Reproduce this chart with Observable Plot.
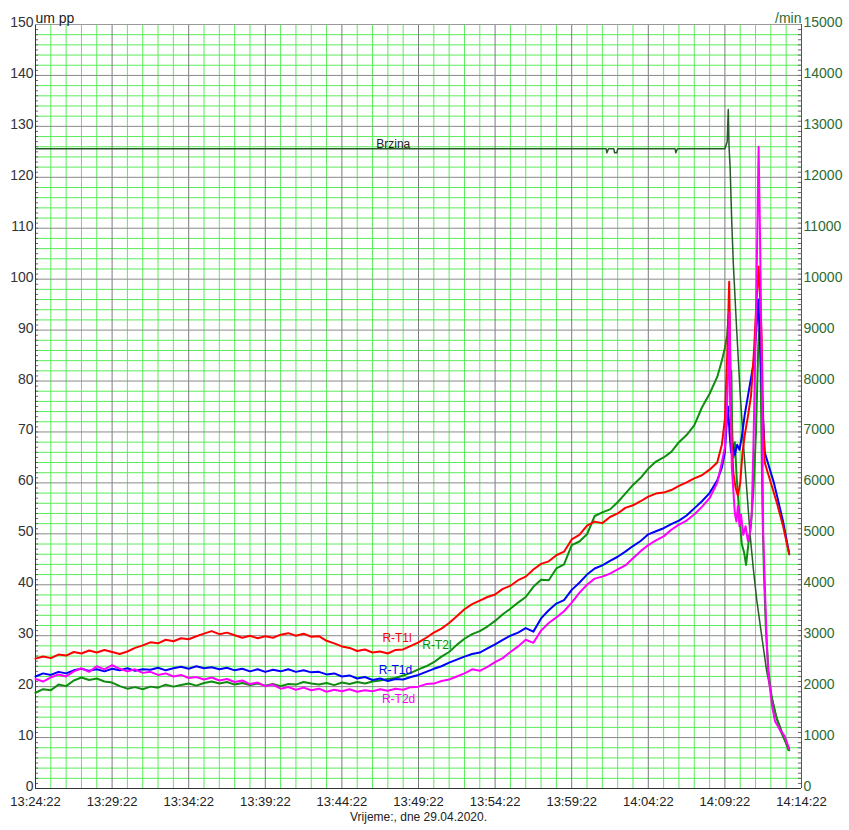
<!DOCTYPE html>
<html>
<head>
<meta charset="utf-8">
<script src="https://cdn.jsdelivr.net/npm/d3@7"></script>
<script src="https://cdn.jsdelivr.net/npm/@observablehq/plot@0.6"></script>
<style>
  html, body { margin: 0; padding: 0; background: #fff; }
  #chart { width: 849px; height: 830px; }
</style>
</head>
<body>
<div id="chart"></div>
<script>
// ---- Data (minutes after 13:24:22; left axis um pp, right axis /min) ----
const startLabel = "13:24:22";
const earlyMinutes = d3.range(0, 45, 0.5); // sampling grid for the slow part

const redEarly = [
  25.5, 25.9, 25.6, 26.3, 26.1, 26.8, 26.5, 27.1, 26.7, 27.2,
  26.8, 26.4, 26.9, 27.6, 28.1, 28.7, 28.5, 29.2, 28.9, 29.5,
  29.3, 29.9, 30.4, 30.9, 30.3, 30.6, 30.1, 29.6, 30.0, 29.5,
  29.9, 29.6, 30.2, 30.5, 30.0, 30.4, 29.8, 29.9, 29.0, 28.5,
  27.9, 27.6, 27.0, 27.3, 26.7, 26.9, 26.5, 27.2, 27.3, 28.0,
  28.7, 29.6, 30.6, 31.4, 32.5, 33.8, 35.2, 36.2, 36.9, 37.6,
  38.1, 39.2, 39.8, 40.9, 41.6, 43.0, 44.1, 44.6, 45.8, 46.5,
  48.9, 49.8, 51.6, 52.4, 52.1, 53.3, 54.0, 55.1, 55.6, 56.4,
  57.3, 57.9, 58.1, 58.6, 59.4, 60.1, 60.9, 61.5, 62.6, 64.0
];
const redLate = [
  [44.8, 67.5], [45.0, 72.5], [45.15, 85], [45.28, 99.5], [45.35, 85], [45.42, 70],
  [45.55, 62], [45.7, 59], [45.85, 57.5], [46.0, 60], [46.15, 66], [46.3, 69.5],
  [46.5, 73], [46.7, 77], [46.9, 86], [47.05, 95], [47.2, 102.5], [47.3, 96],
  [47.4, 88], [47.5, 72], [47.6, 64], [47.75, 62.5], [47.9, 61], [48.1, 59],
  [48.4, 56], [48.8, 51.5], [49.2, 46]
];

const greenEarly = [
  18.8, 19.5, 19.3, 20.4, 20.1, 21.2, 21.8, 21.3, 21.6, 21.0,
  20.8, 20.1, 19.6, 19.9, 19.5, 20.0, 19.8, 20.4, 20.0, 20.3,
  20.6, 20.2, 20.7, 21.0, 20.6, 20.9, 20.4, 20.7, 20.3, 20.6,
  20.2, 20.5, 20.1, 20.5, 20.4, 20.9, 20.6, 20.4, 20.7, 20.3,
  20.8, 20.5, 20.9, 20.6, 21.0, 21.2, 21.5, 21.7, 22.2, 22.7,
  23.4, 24.0, 24.8, 25.9, 26.8, 28.2, 29.4, 30.3, 30.9, 31.8,
  32.9, 34.2, 35.3, 36.5, 37.6, 39.6, 41.0, 40.9, 43.2, 44.0,
  47.8, 48.5, 49.9, 53.5, 54.2, 54.8, 56.2, 57.9, 59.6, 61.0,
  62.8, 64.2, 65.0, 66.1, 68.0, 69.4, 71.3, 74.8, 77.5, 80.8
];
const greenLate = [
  [44.8, 84], [45.0, 86.5], [45.15, 89], [45.25, 93.2], [45.3, 86], [45.36, 74],
  [45.42, 82], [45.48, 70], [45.55, 65], [45.65, 68], [45.77, 61], [45.94, 54],
  [46.1, 48], [46.25, 46.4], [46.38, 43.9], [46.53, 48], [46.7, 51.5], [46.86, 58.3],
  [47.03, 70], [47.18, 87], [47.29, 92], [47.36, 75], [47.45, 55], [47.55, 42],
  [47.68, 31], [47.85, 23], [48.05, 18], [48.3, 14.5], [48.6, 11.5], [48.9, 9.5],
  [49.2, 7.5]
];

const blueEarly = [
  22.0, 22.6, 22.3, 22.9, 22.6, 23.2, 23.5, 23.1, 23.4, 23.0,
  23.5, 23.2, 23.6, 23.1, 23.4, 23.3, 23.7, 23.2, 23.6, 23.9,
  23.5, 24.0, 23.6, 23.8, 23.4, 23.7, 23.2, 23.5, 23.0, 23.4,
  22.9, 23.3, 23.0, 23.4, 22.9, 23.2, 22.8, 22.9, 22.4, 22.6,
  22.0, 22.2, 21.6, 21.9, 21.3, 21.6, 21.1, 21.5, 21.4, 21.9,
  22.3, 22.9, 23.5, 24.0, 24.7, 25.3, 25.9, 26.4, 26.7, 27.5,
  28.3, 29.2, 30.0, 30.6, 31.5, 30.8, 33.4, 35.0, 36.3, 37.0,
  39.0, 40.4, 42.0, 43.2, 43.8, 44.7, 45.5, 46.5, 47.6, 48.6,
  49.9, 50.5, 51.1, 51.9, 52.6, 53.6, 55.0, 56.4, 58.0, 60.5
];
const blueLate = [
  [44.8, 63], [45.0, 66], [45.1, 71], [45.2, 75], [45.3, 70], [45.4, 66],
  [45.5, 67.5], [45.65, 65.5], [45.8, 67.5], [45.95, 66.5], [46.1, 69], [46.3, 73.5],
  [46.5, 77], [46.7, 80.5], [46.9, 84], [47.05, 90], [47.18, 96], [47.3, 87],
  [47.42, 77], [47.6, 66], [47.8, 64], [48.0, 62], [48.2, 60], [48.4, 57.5],
  [48.8, 52.4], [49.2, 46]
];

const magentaEarly = [
  21.5, 21.0, 21.8, 22.4, 22.0, 23.0, 23.6, 22.9, 24.0, 23.4,
  24.2, 23.5, 23.0, 23.4, 22.7, 22.9, 22.3, 22.6, 22.0, 22.3,
  21.7, 21.9, 21.4, 21.8, 21.2, 21.5, 20.9, 21.2, 20.5, 20.8,
  20.1, 20.4, 19.6, 19.9, 19.4, 19.8, 19.3, 19.6, 19.0, 19.4,
  19.1, 19.5, 19.0, 19.3, 19.1, 19.5, 19.2, 19.6, 19.4, 19.9,
  20.0, 20.5, 20.6, 21.1, 21.4, 22.0, 22.6, 23.4, 23.1, 23.9,
  24.8, 25.6, 26.8, 27.9, 29.2, 28.6, 31.0, 32.5, 33.6, 34.8,
  36.5, 38.4, 40.0, 41.2, 41.6, 42.2, 43.0, 43.8, 45.2, 46.6,
  47.8, 48.7, 49.5, 50.8, 51.8, 52.6, 53.8, 55.3, 57.0, 60.0
];
const magentaLate = [
  [44.8, 64], [45.0, 67], [45.12, 74], [45.22, 82], [45.3, 93.5], [45.36, 80],
  [45.45, 63], [45.55, 58.5], [45.65, 54], [45.75, 52.4], [45.85, 55.5], [45.95, 51.5],
  [46.05, 53.8], [46.2, 49.8], [46.35, 51.5], [46.5, 48.6], [46.62, 50], [46.75, 54],
  [46.86, 67], [47.03, 92.4], [47.2, 126], [47.29, 109], [47.4, 84], [47.5, 50],
  [47.62, 38.8], [47.73, 28.6], [47.83, 22.6], [48.06, 16.6], [48.27, 13.2], [48.6, 11.5],
  [48.9, 10.3], [49.2, 7.8]
];

// Brzina (speed) in /min, right axis
const brzina = [
  [0, 12560], [37.25, 12560], [37.3, 12480], [37.4, 12560], [37.75, 12560], [37.8, 12480],
  [37.95, 12480], [38.0, 12560], [41.75, 12560], [41.8, 12480], [41.9, 12560], [45.0, 12560],
  [45.15, 12700], [45.22, 13330], [45.27, 12600], [45.34, 12200], [45.45, 11100], [45.55, 10300],
  [45.77, 9000], [45.99, 7800], [46.2, 6800], [46.42, 5900], [46.64, 5000], [46.86, 4300],
  [47.08, 3700], [47.4, 3000], [47.73, 2300], [48.06, 1800], [48.38, 1400], [48.81, 1050],
  [49.14, 750]
];

const seriesLabels = [
  {name: "R-T1l", t: 23.6, v: 29.6, color: "#ff0000"},
  {name: "R-T2l", t: 26.2, v: 28.1, color: "#108c10"},
  {name: "R-T1d", t: 23.5, v: 23.2, color: "#0000ff"},
  {name: "R-T2d", t: 23.7, v: 17.5, color: "#ff00ff"}
];
const brzinaLabel = {name: "Brzina", t: 23.35, v: 12660};

const xTicks = [0, 5, 10, 15, 20, 25, 30, 35, 40, 45, 50];
const yTicks = [0, 10, 20, 30, 40, 50, 60, 70, 80, 90, 100, 110, 120, 130, 140, 150];
const rpmPerUnit = 100;

// ---- helpers ----
const rows = (early, late) => [
  ...early.map((v, i) => ({t: earlyMinutes[i], v})),
  ...late.map(([t, v]) => ({t, v}))
];
function fmtTime(m) {
  const [h0, m0, s0] = startLabel.split(":").map(Number);
  const s = Math.round(h0 * 3600 + m0 * 60 + s0 + m * 60);
  const hh = Math.floor(s / 3600), mm = Math.floor((s % 3600) / 60), ss = s % 60;
  return `${hh}:${String(mm).padStart(2, "0")}:${String(ss).padStart(2, "0")}`;
}
const minorX = d3.range(0, 51, 1).filter(d => d % 5 !== 0);
const minorY = d3.range(0, 151, 2).filter(d => d % 10 !== 0);
const unitTicks = d3.range(0, 151, 1);
const gridGreen = "#5aec5a";
const darkGreen = "#2e6b32";
const font = "Arial, 'Liberation Sans', sans-serif";
const lw = 2;

const chart = Plot.plot({
  width: 849,
  height: 830,
  marginLeft: 35,
  marginRight: 48,
  marginTop: 24,
  marginBottom: 42,
  x: {domain: [0, 50], axis: null},
  y: {domain: [0, 150], axis: null},
  style: {fontFamily: font, fontSize: "14px", background: "white", overflow: "visible"},
  marks: [
    Plot.ruleX(minorX, {stroke: gridGreen, strokeWidth: 1}),
    Plot.ruleY(minorY, {stroke: gridGreen, strokeWidth: 1}),
    Plot.ruleX(xTicks, {stroke: "#7a7a7a", strokeWidth: 1}),
    Plot.ruleY(yTicks, {stroke: "#8a8a8a", strokeWidth: 1}),
    Plot.ruleY(unitTicks, {x1: 0, x2: 0.2, stroke: "#666"}),
    Plot.ruleY(unitTicks, {x1: 49.8, x2: 50, stroke: "#666"}),
    Plot.ruleX([0], {stroke: "#333"}),
    Plot.ruleY([0], {stroke: "#333"}),
    Plot.ruleX([50], {stroke: "#555"}),
    Plot.ruleY([150], {stroke: "#999"}),
    Plot.line(brzina, {x: d => d[0], y: d => d[1] / rpmPerUnit, stroke: "#2a5a2a", strokeWidth: 1.5}),
    Plot.line(rows(greenEarly, greenLate), {x: "t", y: "v", stroke: "#108c10", strokeWidth: lw}),
    Plot.line(rows(blueEarly, blueLate), {x: "t", y: "v", stroke: "#0000ff", strokeWidth: lw}),
    Plot.line(rows(redEarly, redLate), {x: "t", y: "v", stroke: "#ff0000", strokeWidth: lw}),
    Plot.line(rows(magentaEarly, magentaLate), {x: "t", y: "v", stroke: "#ff00ff", strokeWidth: lw}),
    Plot.text(seriesLabels, {x: "t", y: "v", text: "name", fill: "color", fontSize: 12}),
    Plot.text([brzinaLabel], {x: "t", y: d => d.v / rpmPerUnit, text: "name", fill: "#222", fontSize: 12}),
    Plot.axisY({anchor: "left", ticks: yTicks, tickSize: 0, tickPadding: 2, dy: -2, fill: "#333", fontSize: 14, label: null}),
    Plot.axisY({anchor: "right", ticks: yTicks, tickSize: 0, tickPadding: 2, dy: -2, tickFormat: d => String(d * rpmPerUnit), fill: darkGreen, fontSize: 14, label: null}),
    Plot.axisX({ticks: xTicks, tickSize: 0, tickPadding: 8, tickFormat: fmtTime, fill: "#222", fontSize: 13, label: null}),
    Plot.text(["Vrijeme:, dne 29.04.2020."], {frameAnchor: "bottom", dy: 32, fontSize: 12, fill: "#222"}),
    Plot.text(["um pp"], {frameAnchor: "top-left", textAnchor: "start", dy: -11, fontSize: 14, fill: "#222"}),
    Plot.text(["/min"], {frameAnchor: "top-right", textAnchor: "end", dy: -11, fontSize: 14, fill: darkGreen})
  ]
});
document.getElementById("chart").appendChild(chart);
</script>
</body>
</html>
